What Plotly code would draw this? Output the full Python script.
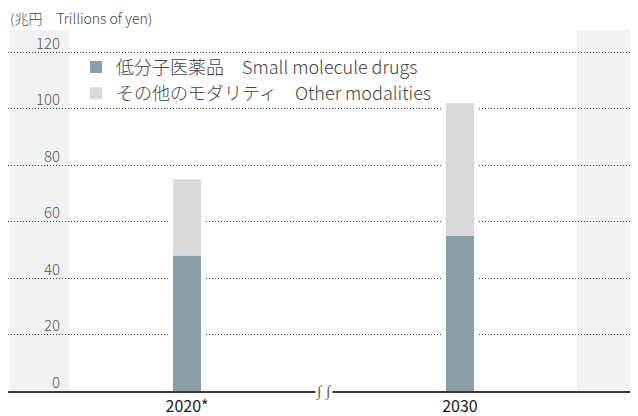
import plotly.graph_objects as go

categories = ["2020*", "2030"]
small_molecule = [48, 55]
other_modalities = [27, 47]
tick_values = [0, 20, 40, 60, 80, 100, 120]
legend_small = "低分子医薬品　Small molecule drugs"
legend_other = "その他のモダリティ　Other modalities"
unit_label = "(兆円　Trillions of yen)"

totals = [a + b for a, b in zip(small_molecule, other_modalities)]

FONT = "Noto Sans CJK JP, Noto Sans, sans-serif"
C_SMALL = "#8a9ea8"
C_OTHER = "#d9dadc"
C_STRIP = "#f1f2f4"

fig = go.Figure()
# white halo behind bars (creates gap in gridlines)
fig.add_trace(go.Bar(x=categories, y=totals, width=0.125, marker=dict(color="white", line=dict(width=0)),
                     showlegend=False, hoverinfo="skip"))
fig.add_trace(go.Bar(x=categories, y=small_molecule, width=0.1026, name=legend_small,
                     marker=dict(color=C_SMALL, line=dict(width=0))))
fig.add_trace(go.Bar(x=categories, y=other_modalities, base=small_molecule, width=0.1026, name=legend_other,
                     marker=dict(color=C_OTHER, line=dict(width=0))))

fig.update_layout(
    width=630, height=408,
    margin=dict(l=0, r=0, t=22, b=25),
    paper_bgcolor="white", plot_bgcolor="rgba(0,0,0,0)",
    barmode="overlay",
    font=dict(family=FONT, color="#555", weight=300),
    legend=dict(x=0.108, y=0.948, xanchor="left", yanchor="top", traceorder="normal",
                font=dict(size=18, color="#444", family=FONT, weight=300),
                bgcolor="rgba(0,0,0,0)", tracegroupgap=0, itemwidth=30),
    showlegend=True,
)
fig.update_xaxes(type="category", range=[-0.6557, 1.652], showgrid=False, showline=True,
                 linecolor="#3a3a3a", linewidth=2, ticks="", zeroline=False,
                 tickfont=dict(size=16, color="#222", family=FONT, weight=400))
fig.update_yaxes(range=[0, 127.8], tickvals=tick_values, showticklabels=False, showgrid=True,
                 gridcolor="#444", gridwidth=1, griddash="1px,2px", zeroline=False, showline=False)

# background strips
fig.add_shape(type="rect", xref="paper", yref="paper", x0=0.003, x1=0.098, y0=0, y1=1,
              fillcolor=C_STRIP, line=dict(width=0), layer="below")
fig.add_shape(type="rect", xref="paper", yref="paper", x0=0.903, x1=1, y0=0, y1=1,
              fillcolor=C_STRIP, line=dict(width=0), layer="below")

# y tick labels above gridlines
for v in tick_values:
    fig.add_annotation(x=0.0857, xref="paper", y=v, yref="y", text=str(v), showarrow=False,
                       xanchor="right", yanchor="middle", yshift=10,
                       font=dict(size=15, color="#555", family=FONT, weight=300))

# unit label
fig.add_annotation(x=0, xref="paper", y=1, yref="paper", text=unit_label, showarrow=False,
                   xanchor="left", yanchor="middle", yshift=12,
                   font=dict(size=14, color="#444", family=FONT, weight=300))

# axis break mark
fig.add_annotation(x=0.5, xref="x", y=0, yref="y", text="∫ ∫", showarrow=False,
                   xanchor="center", yanchor="middle", bgcolor="white", borderpad=0,
                   font=dict(size=15, color="#555", family="DejaVu Sans"))

fig.write_html("out.html")
